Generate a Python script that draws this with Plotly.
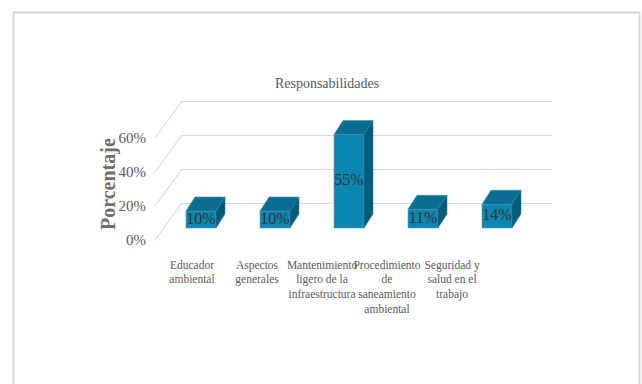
import plotly.graph_objects as go

# ---- data ----
categories = ["Educador ambiental", "Aspectos generales",
              "Mantenimiento ligero de la infraestructura",
              "Procedimiento de saneamiento ambiental",
              "Seguridad y salud en el trabajo"]
tick_labels = ["Educador<br>ambiental", "Aspectos<br>generales",
               "Mantenimiento<br>ligero de la<br>infraestructura",
               "Procedimiento<br>de<br>saneamiento<br>ambiental",
               "Seguridad y<br>salud en el<br>trabajo"]
values = [0.10, 0.10, 0.55, 0.11, 0.14]
y_ticks = [0, 0.2, 0.4, 0.6]
title_text = "Responsabilidades"
y_title = "Porcentaje"

# ---- style / geometry ----
W, H = 642, 384
ML, MR, MT, MB = 150, 90, 90, 134
plot_w = W - ML - MR          # 402
plot_h = H - MT - MB          # 160
x_dom0 = 32 / plot_w          # back wall starts 32px right of paper left
xdom_w = plot_w * (1 - x_dom0)
n = len(categories)
cat_px = 74.0                 # px per category on bar plane
x_start = -19.0 / cat_px
x_range = [x_start, x_start + xdom_w / cat_px]
bar_w = 0.405

k = 170.0                     # px per unit value
y_range = [-(plot_h - 138) / k, 138 / k]     # bar plane
y2_range = [-(plot_h - 113) / k, 113 / k]    # back wall
y3_range = [-(plot_h - 150) / k, 150 / k]    # front wall (tick labels)

lab_px = 65.0
x2_start = -10.0 / lab_px
x2_range = [x2_start, x2_start + xdom_w / lab_px]

FRONT = "#0C86B0"
TOP = "#0A6E91"
SIDE = "#075B78"
GRID = "#D9D9D9"
TXT = "#595959"
FONT = "Liberation Serif, serif"

dx_px, dy_px = 9, 14
half_px = bar_w * cat_px / 2
dy_data = dy_px / k

fig = go.Figure()
fig.add_trace(go.Bar(
    x=list(range(n)), y=values, width=bar_w,
    marker=dict(color=FRONT, line=dict(color="#3FA6CC", width=0.6)),
    hoverinfo="skip", showlegend=False,
))
fig.add_trace(go.Scatter(
    x=list(range(n)), y=[v / 2 for v in values], mode="text",
    text=[f"{round(v*100)}%" for v in values],
    textfont=dict(family=FONT, size=16, color="#333333"),
    textposition="middle center", hoverinfo="skip", showlegend=False,
))
# invisible helper traces so the extra axes are drawn
fig.add_trace(go.Scatter(x=[0], y=[0], yaxis="y2", mode="markers",
                         marker=dict(opacity=0), hoverinfo="skip", showlegend=False))
fig.add_trace(go.Scatter(x=[0], y=[0], yaxis="y3", mode="markers",
                         marker=dict(opacity=0), hoverinfo="skip", showlegend=False))
fig.add_trace(go.Scatter(x=[0], y=[0], xaxis="x2", mode="markers",
                         marker=dict(opacity=0), hoverinfo="skip", showlegend=False))

shapes = []
# side wall diagonals (from back-wall gridline left ends toward the front)
for t in y_ticks:
    yp = (t - y2_range[0]) / (y2_range[1] - y2_range[0])
    shapes.append(dict(type="line", xref="paper", yref="paper",
                       xsizemode="pixel", ysizemode="pixel",
                       xanchor=x_dom0, yanchor=yp,
                       x0=0, x1=-27, y0=0, y1=-37,
                       line=dict(color=GRID, width=1.2), layer="below"))
# 3D faces of bars
for i, v in enumerate(values):
    top_path = (f"M{-half_px},{v} L{half_px},{v} "
                f"L{half_px+dx_px},{v+dy_data} L{-half_px+dx_px},{v+dy_data} Z")
    shapes.append(dict(type="path", xref="x", yref="y", xsizemode="pixel",
                       xanchor=i, path=top_path, fillcolor=TOP,
                       line=dict(color="#3C8FAE", width=0.6), layer="above"))
    side_path = (f"M{half_px},0 L{half_px},{v} "
                 f"L{half_px+dx_px},{v+dy_data} L{half_px+dx_px},{dy_data} Z")
    shapes.append(dict(type="path", xref="x", yref="y", xsizemode="pixel",
                       xanchor=i, path=side_path, fillcolor=SIDE,
                       line=dict(color="#2F7C98", width=0.6), layer="above"))
# outer frame
shapes.append(dict(type="rect", xref="paper", yref="paper",
                   x0=(13.5 - ML) / plot_w, x1=(639.5 - ML) / plot_w,
                   y0=(plot_h + MT - 420) / plot_h, y1=(plot_h + MT - 12.5) / plot_h,
                   line=dict(color="#D6D6D6", width=2), fillcolor="rgba(0,0,0,0)",
                   layer="below"))

fig.update_layout(
    width=W, height=H,
    margin=dict(l=ML, r=MR, t=MT, b=MB),
    paper_bgcolor="white", plot_bgcolor="rgba(0,0,0,0)",
    showlegend=False,
    title=dict(text=title_text, x=327 / W, xanchor="center",
               y=1 - 83 / H, yanchor="middle", yref="container",
               font=dict(family=FONT, size=14, color=TXT)),
    xaxis=dict(domain=[x_dom0, 1], range=x_range, showgrid=False, zeroline=False,
               showticklabels=False, showline=False, fixedrange=True),
    xaxis2=dict(domain=[x_dom0, 1], overlaying="x", anchor="y", side="bottom",
                range=x2_range, tickmode="array", tickvals=list(range(n)),
                ticktext=tick_labels, tickangle=0, showgrid=False, zeroline=False,
                showline=False, ticks="", ticklabelstandoff=6,
                tickfont=dict(family=FONT, size=11.5, color=TXT)),
    yaxis=dict(range=y_range, showgrid=False, zeroline=False, showticklabels=False,
               showline=False, anchor="x"),
    yaxis2=dict(range=y2_range, overlaying="y", anchor="x", tickmode="array",
                tickvals=y_ticks, showgrid=True, gridcolor=GRID, gridwidth=1.2,
                zeroline=False, showticklabels=False, showline=False),
    yaxis3=dict(range=y3_range, overlaying="y", anchor="free", position=0,
                tickmode="array", tickvals=y_ticks, tickformat=".0%",
                showgrid=False, zeroline=False, showline=False, ticks="",
                ticklabelstandoff=4,
                tickfont=dict(family=FONT, size=15, color=TXT)),
    shapes=shapes,
    annotations=[dict(text=y_title, textangle=-90, xref="paper", yref="paper",
                      x=(108 - ML) / plot_w, y=(plot_h + MT - 184) / plot_h,
                      xanchor="center", yanchor="middle", showarrow=False,
                      font=dict(family=FONT, size=20, color="#6E6E6E", weight="bold"))],
)

fig.write_html("out.html")
